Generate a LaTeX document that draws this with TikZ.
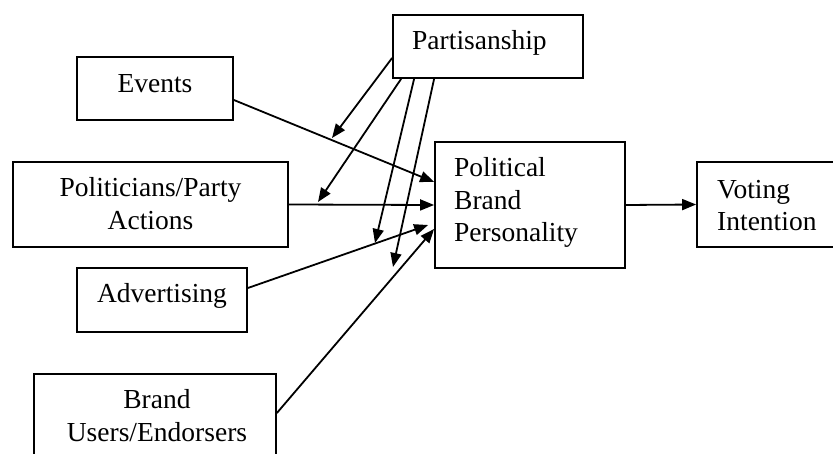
\documentclass[tikz,border=0pt]{standalone}
\usepackage{fontspec}
\setmainfont{Liberation Serif}
\usetikzlibrary{arrows.meta}
\begin{document}
\begin{tikzpicture}[x=1pt,y=-1pt,
  box/.style={draw, line width=1.8pt, inner sep=0pt},
  lbl/.style={inner sep=0pt, font=\fontsize{27.5}{32.5}\selectfont},
  arr/.style={line width=1.8pt, -{Triangle[length=14pt,width=11pt]}}]
\useasboundingbox (0,0) rectangle (833,454);
% boxes
\node[box, minimum width=190pt, minimum height=63pt] (part) at (488,46.5) {};
\node[box, minimum width=156pt, minimum height=63pt] (ev) at (155,88.5) {};
\node[box, minimum width=275pt, minimum height=85pt] (pol) at (150.5,204.5) {};
\node[box, minimum width=170pt, minimum height=64pt] (adv) at (162,300) {};
\node[box, minimum width=242pt, minimum height=96pt] (bu) at (155,422) {};
\node[box, minimum width=190pt, minimum height=126pt] (pbp) at (530,205) {};
\node[box, minimum width=143pt, minimum height=85pt] (vi) at (768.5,204.5) {};
% texts (base anchor = baseline of last line)
\node[lbl, anchor=base west] (tpart) at (412,50) {Partisanship};
\node[lbl, anchor=base] (tev) at (155,93) {Events};
\node[lbl, anchor=base, align=center] (tpol) at (150.5,229.5) {Politicians/Party\\Actions};
\node[lbl, anchor=base] (tadv) at (162,303) {Advertising};
\node[lbl, anchor=base, align=center] (tbu) at (157,441) {Brand\\Users/Endorsers};
\node[lbl, anchor=base west, align=left] (tpbp) at (454,242) {Political\\Brand\\Personality};
\node[lbl, anchor=base west, align=left] (tvi) at (717,231) {Voting\\Intention};
% main arrows
\draw[arr] ([yshift=-11.5pt]ev.east) -- ([yshift=23pt]pbp.west);
\draw[arr] (pol.east) -- (pbp.west);
\draw[arr] ([yshift=12pt]adv.east) -- ([xshift=-6pt,yshift=-20pt]pbp.west);
\draw[arr] ([yshift=9pt]bu.east) -- ([yshift=-24pt]pbp.west);
\draw[arr] (pbp.east) -- (vi.west);
% moderator targets
\coordinate (m1) at (332,138);
\coordinate (m2) at (318,202);
\coordinate (m3) at (375,243);
\coordinate (m4) at (393,267);
\draw[arr] ([yshift=-11.5pt]part.west) -- (m1);
\draw[arr] ([xshift=9pt]part.south west) -- (m2);
\draw[arr] ([xshift=22pt]part.south west) -- (m3);
\draw[arr] ([xshift=42pt]part.south west) -- (m4);
\end{tikzpicture}
\end{document}
